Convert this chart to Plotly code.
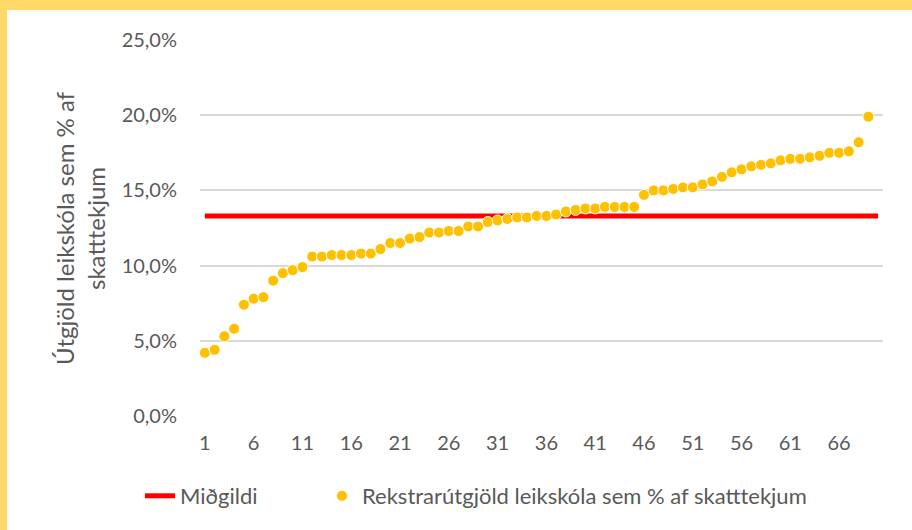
import numpy as np
import plotly.graph_objects as go

# Operating cost of preschools as % of tax revenue, per municipality (sorted)
spend_pct = [
    4.2, 4.4, 5.3, 5.8, 7.4, 7.8, 7.9, 9.0, 9.5, 9.7,
    9.9, 10.6, 10.6, 10.7, 10.7, 10.7, 10.8, 10.8, 11.1, 11.5,
    11.5, 11.8, 11.9, 12.2, 12.2, 12.3, 12.3, 12.6, 12.6, 12.9,
    13.0, 13.1, 13.2, 13.2, 13.3, 13.3, 13.4, 13.6, 13.7, 13.8,
    13.8, 13.9, 13.9, 13.9, 13.9, 14.7, 15.0, 15.0, 15.1, 15.2,
    15.2, 15.4, 15.6, 15.9, 16.2, 16.4, 16.6, 16.7, 16.8, 17.0,
    17.1, 17.1, 17.2, 17.3, 17.5, 17.5, 17.6, 18.2, 19.9,
]
n_categories = 70
x_ticks = [1, 6, 11, 16, 21, 26, 31, 36, 41, 46, 51, 56, 61, 66]
y_ticks = [0, 5, 10, 15, 20, 25]
y_tick_text = ["0,0%", "5,0%", "10,0%", "15,0%", "20,0%", "25,0%"]

median_val = float(np.median(spend_pct))
cats = list(range(1, n_categories + 1))
points_x = list(range(1, len(spend_pct) + 1))

W, H = 912, 530
L, R, T, B = 200, 29, 40, 114
PW, PH = W - L - R, H - T - B


def px(x):
    return (x - L) / PW


def py(y):
    return (H - B - y) / PH


FONT = "Lato, 'Open Sans', sans-serif"
GREY = "#595959"
YELLOW_FRAME = "#FFD966"

fig = go.Figure()
fig.add_trace(go.Scatter(
    x=cats, y=[median_val] * n_categories, mode="lines",
    name="Miðgildi", legend="legend",
    line=dict(color="#FF0000", width=5),
))
fig.add_trace(go.Scatter(
    x=points_x, y=spend_pct, mode="markers",
    name="Rekstrarútgjöld leikskóla sem % af skatttekjum", legend="legend2",
    marker=dict(color="#FFC000", size=11, line=dict(color="white", width=1)),
))

legend_common = dict(
    orientation="h", yanchor="middle", xanchor="left",
    font=dict(size=22, color=GREY), bgcolor="rgba(0,0,0,0)",
)

fig.update_layout(
    width=W, height=H,
    margin=dict(l=L, r=R, t=T, b=B),
    paper_bgcolor="white", plot_bgcolor="white",
    font=dict(family=FONT, size=20, color=GREY),
    showlegend=True,
    legend=dict(x=px(140), y=py(496), **legend_common),
    legend2=dict(x=px(322), y=py(496), **legend_common),
    xaxis=dict(
        range=[0.5, n_categories + 0.5], tickvals=x_ticks,
        showgrid=False, zeroline=False, showline=False, ticks="",
        ticklabelstandoff=13, tickfont=dict(size=20, color=GREY),
    ),
    yaxis=dict(
        range=[0, 25], tickvals=y_ticks, ticktext=y_tick_text,
        showgrid=True, gridcolor="#D9D9D9", gridwidth=1.5,
        zeroline=False, showline=False, ticks="",
        ticklabelstandoff=22, tickfont=dict(size=20, color=GREY),
    ),
    annotations=[dict(
        text="Útgjöld leikskóla sem % af<br>skatttekjum",
        xref="paper", yref="paper", x=px(80), y=py(228),
        xanchor="center", yanchor="middle", textangle=-90, showarrow=False,
        font=dict(size=24, color=GREY, family=FONT),
    )],
    shapes=[
        # frame border along the top and left edges
        dict(type="rect", xref="paper", yref="paper", layer="below",
             x0=px(0), x1=px(W), y0=py(10), y1=py(0),
             fillcolor=YELLOW_FRAME, line=dict(width=0)),
        dict(type="rect", xref="paper", yref="paper", layer="below",
             x0=px(0), x1=px(7), y0=py(H), y1=py(0),
             fillcolor=YELLOW_FRAME, line=dict(width=0)),
    ],
)

fig.write_html("out.html")
